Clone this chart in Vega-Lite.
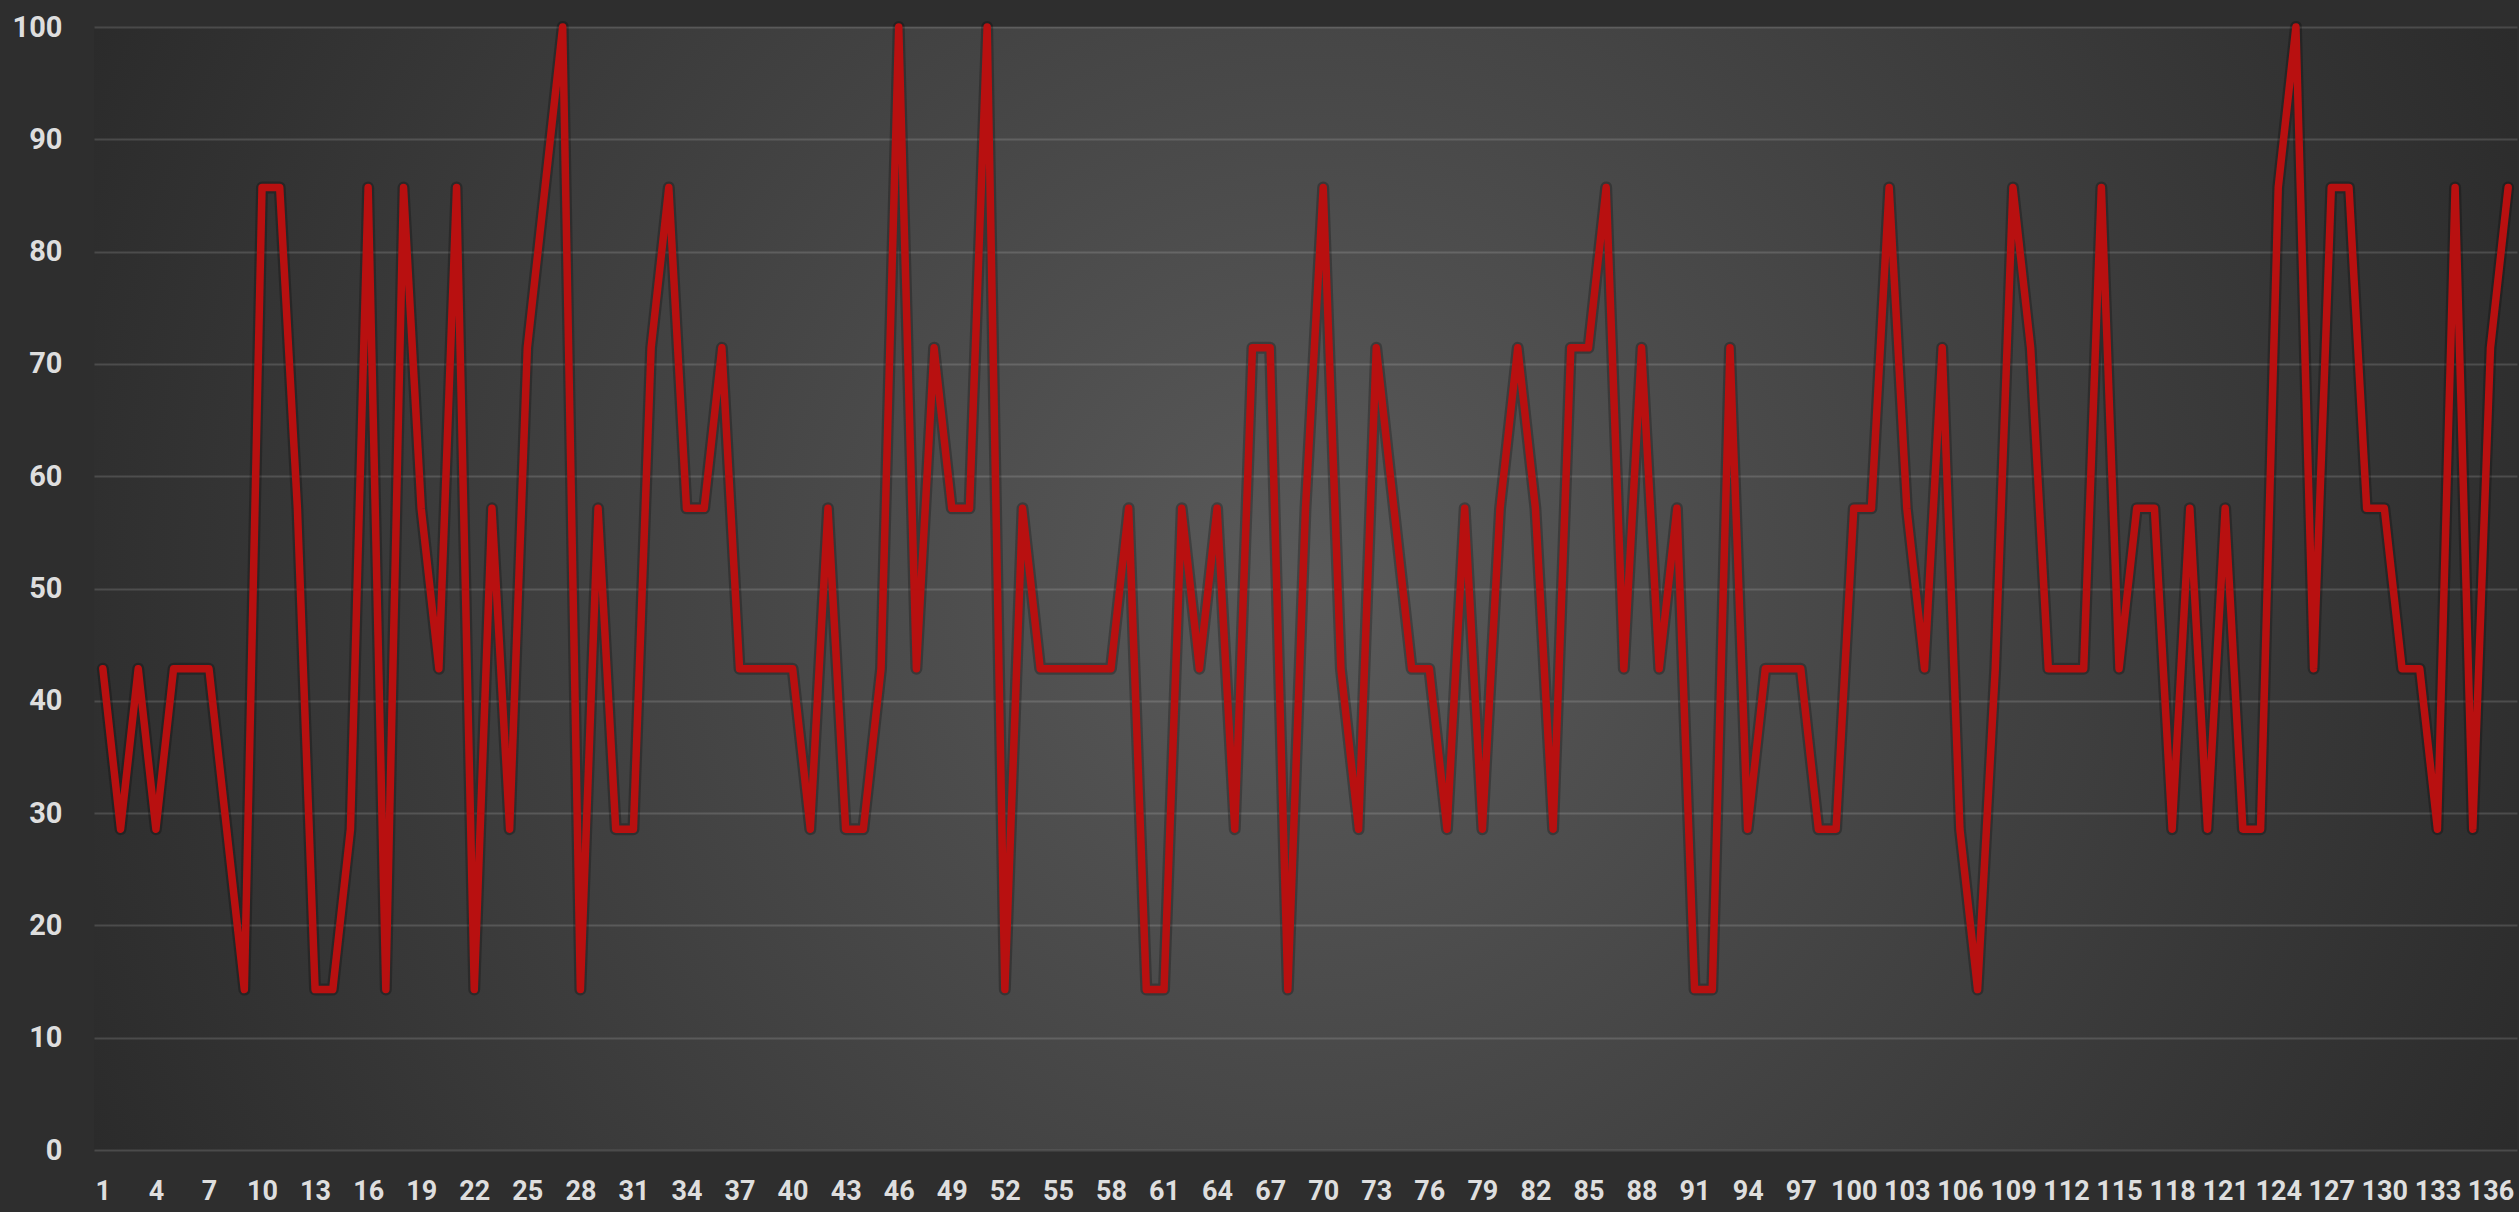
{
  "$schema": "https://vega.github.io/schema/vega-lite/v6.json",
  "width": 2423,
  "height": 1123,
  "autosize": {"type": "none"},
  "padding": {"left": 94, "top": 27, "right": 2, "bottom": 62},
  "background": "#2e2e2e",
  "config": {
    "view": {
      "stroke": null,
      "fill": {
        "gradient": "radial",
        "x1": 0.5, "y1": 0.5, "r1": 0,
        "x2": 0.5, "y2": 0.5, "r2": 0.55,
        "stops": [
          {"offset": 0, "color": "#5a5a5a"},
          {"offset": 1, "color": "#2b2b2b"}
        ]
      }
    }
  },
  "data": {
    "values": [
      {"n":1,"v":42.86},{"n":2,"v":28.57},{"n":3,"v":42.86},{"n":4,"v":28.57},{"n":5,"v":42.86},
      {"n":6,"v":42.86},{"n":7,"v":42.86},{"n":8,"v":28.57},{"n":9,"v":14.29},{"n":10,"v":85.71},
      {"n":11,"v":85.71},{"n":12,"v":57.14},{"n":13,"v":14.29},{"n":14,"v":14.29},{"n":15,"v":28.57},
      {"n":16,"v":85.71},{"n":17,"v":14.29},{"n":18,"v":85.71},{"n":19,"v":57.14},{"n":20,"v":42.86},
      {"n":21,"v":85.71},{"n":22,"v":14.29},{"n":23,"v":57.14},{"n":24,"v":28.57},{"n":25,"v":71.43},
      {"n":26,"v":85.71},{"n":27,"v":100},{"n":28,"v":14.29},{"n":29,"v":57.14},{"n":30,"v":28.57},
      {"n":31,"v":28.57},{"n":32,"v":71.43},{"n":33,"v":85.71},{"n":34,"v":57.14},{"n":35,"v":57.14},
      {"n":36,"v":71.43},{"n":37,"v":42.86},{"n":38,"v":42.86},{"n":39,"v":42.86},{"n":40,"v":42.86},
      {"n":41,"v":28.57},{"n":42,"v":57.14},{"n":43,"v":28.57},{"n":44,"v":28.57},{"n":45,"v":42.86},
      {"n":46,"v":100},{"n":47,"v":42.86},{"n":48,"v":71.43},{"n":49,"v":57.14},{"n":50,"v":57.14},
      {"n":51,"v":100},{"n":52,"v":14.29},{"n":53,"v":57.14},{"n":54,"v":42.86},{"n":55,"v":42.86},
      {"n":56,"v":42.86},{"n":57,"v":42.86},{"n":58,"v":42.86},{"n":59,"v":57.14},{"n":60,"v":14.29},
      {"n":61,"v":14.29},{"n":62,"v":57.14},{"n":63,"v":42.86},{"n":64,"v":57.14},{"n":65,"v":28.57},
      {"n":66,"v":71.43},{"n":67,"v":71.43},{"n":68,"v":14.29},{"n":69,"v":57.14},{"n":70,"v":85.71},
      {"n":71,"v":42.86},{"n":72,"v":28.57},{"n":73,"v":71.43},{"n":74,"v":57.14},{"n":75,"v":42.86},
      {"n":76,"v":42.86},{"n":77,"v":28.57},{"n":78,"v":57.14},{"n":79,"v":28.57},{"n":80,"v":57.14},
      {"n":81,"v":71.43},{"n":82,"v":57.14},{"n":83,"v":28.57},{"n":84,"v":71.43},{"n":85,"v":71.43},
      {"n":86,"v":85.71},{"n":87,"v":42.86},{"n":88,"v":71.43},{"n":89,"v":42.86},{"n":90,"v":57.14},
      {"n":91,"v":14.29},{"n":92,"v":14.29},{"n":93,"v":71.43},{"n":94,"v":28.57},{"n":95,"v":42.86},
      {"n":96,"v":42.86},{"n":97,"v":42.86},{"n":98,"v":28.57},{"n":99,"v":28.57},{"n":100,"v":57.14},
      {"n":101,"v":57.14},{"n":102,"v":85.71},{"n":103,"v":57.14},{"n":104,"v":42.86},{"n":105,"v":71.43},
      {"n":106,"v":28.57},{"n":107,"v":14.29},{"n":108,"v":42.86},{"n":109,"v":85.71},{"n":110,"v":71.43},
      {"n":111,"v":42.86},{"n":112,"v":42.86},{"n":113,"v":42.86},{"n":114,"v":85.71},{"n":115,"v":42.86},
      {"n":116,"v":57.14},{"n":117,"v":57.14},{"n":118,"v":28.57},{"n":119,"v":57.14},{"n":120,"v":28.57},
      {"n":121,"v":57.14},{"n":122,"v":28.57},{"n":123,"v":28.57},{"n":124,"v":85.71},{"n":125,"v":100},
      {"n":126,"v":42.86},{"n":127,"v":85.71},{"n":128,"v":85.71},{"n":129,"v":57.14},{"n":130,"v":57.14},
      {"n":131,"v":42.86},{"n":132,"v":42.86},{"n":133,"v":28.57},{"n":134,"v":85.71},{"n":135,"v":28.57},
      {"n":136,"v":71.43},{"n":137,"v":85.71}
    ]
  },
  "encoding": {
    "x": {
      "field": "n",
      "type": "ordinal",
      "scale": {"type": "point", "padding": 0.5},
      "axis": {
        "title": null,
        "labelExpr": "(datum.value - 1) % 3 === 0 ? datum.label : ''",
        "labelAngle": 0,
        "labelFont": "Roboto",
        "labelFontWeight": "bold",
        "labelFontSize": 27,
        "labelColor": "#dedede",
        "labelPadding": 28,
        "labelBaseline": "top",
        "labelOverlap": false,
        "ticks": false,
        "domain": false,
        "grid": false
      }
    },
    "y": {
      "field": "v",
      "type": "quantitative",
      "scale": {"domain": [0, 100], "nice": false},
      "axis": {
        "title": null,
        "values": [0, 10, 20, 30, 40, 50, 60, 70, 80, 90, 100],
        "labelFont": "Roboto",
        "labelFontWeight": "bold",
        "labelFontSize": 29,
        "labelColor": "#dedede",
        "labelPadding": 32,
        "ticks": false,
        "domain": false,
        "grid": true,
        "gridColor": "#ffffff",
        "gridOpacity": 0.14,
        "gridWidth": 2
      }
    }
  },
  "layer": [
    {"mark": {"type": "line", "stroke": "#000000", "strokeWidth": 12, "opacity": 0.25, "strokeJoin": "round", "strokeCap": "round"}},
    {"mark": {"type": "line", "stroke": "#b81010", "strokeWidth": 7.5, "strokeJoin": "round", "strokeCap": "round"}}
  ]
}
